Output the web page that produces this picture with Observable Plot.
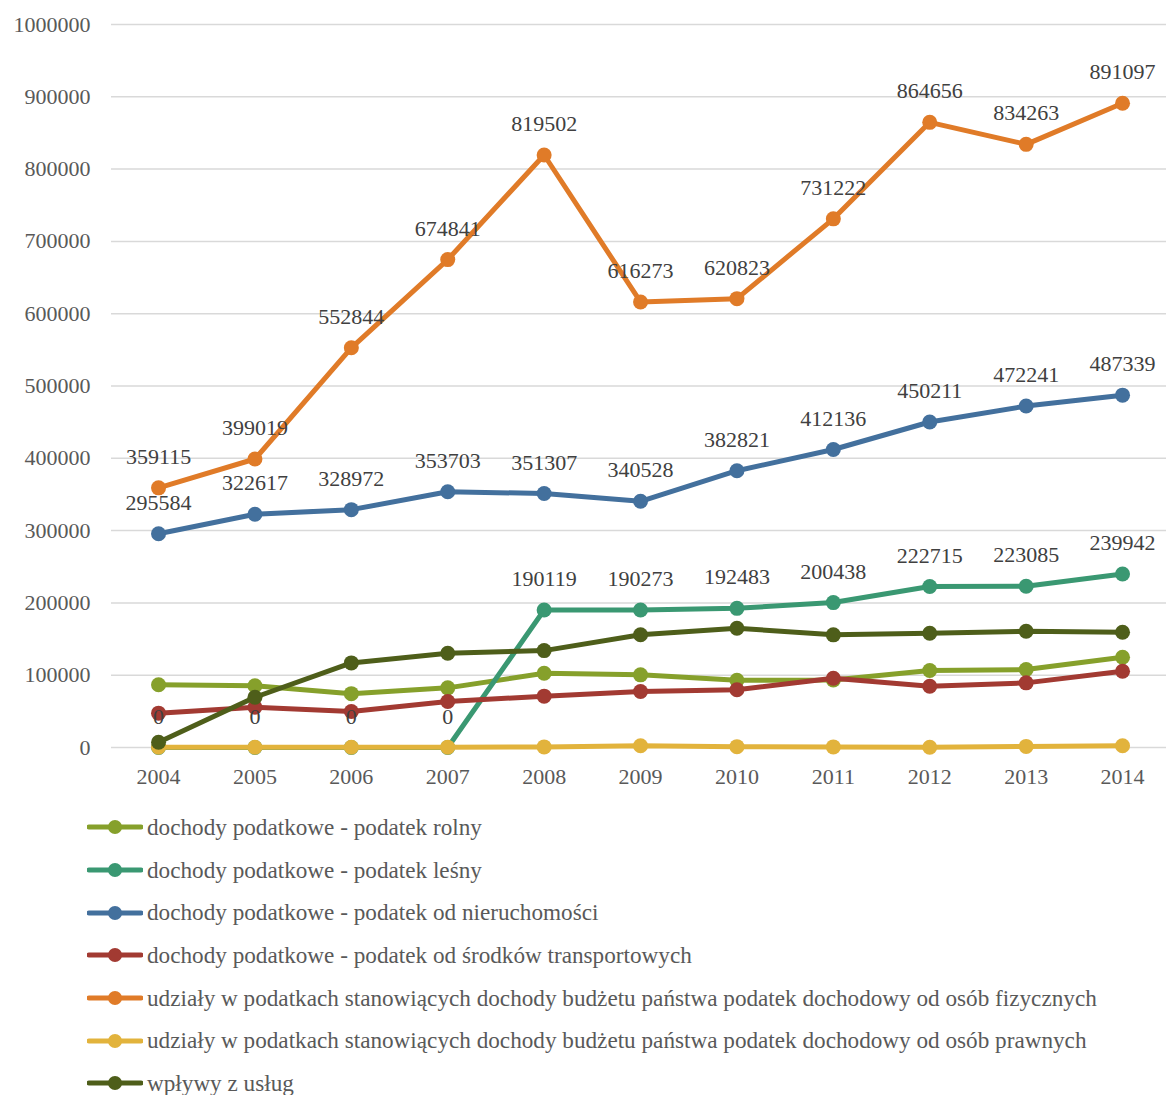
<!DOCTYPE html>
<html>
<head>
<meta charset="utf-8">
<script src="https://cdn.jsdelivr.net/npm/d3@7"></script>
<script src="https://cdn.jsdelivr.net/npm/@observablehq/plot@0.6"></script>
<style>
  body { margin: 0; background: #fff; font-family: "Liberation Serif", "DejaVu Serif", serif; }
  #chart { width: 1166px; }
  #legend { margin-top: 6px; }
  .item { height: 42.7px; display: flex; align-items: center; color: #595959; font-size: 23.2px; }
  .item svg { margin-left: 87px; margin-right: 4px; }
</style>
</head>
<body>
<div id="chart"></div>
<div id="legend"></div>
<script>
const years = [2004, 2005, 2006, 2007, 2008, 2009, 2010, 2011, 2012, 2013, 2014];
const yTicks = [0, 100000, 200000, 300000, 400000, 500000, 600000, 700000, 800000, 900000, 1000000];

const seriesNames = [
  "dochody podatkowe - podatek rolny",
  "dochody podatkowe - podatek leśny",
  "dochody podatkowe - podatek od nieruchomości",
  "dochody podatkowe - podatek od środków transportowych",
  "udziały w podatkach stanowiących dochody budżetu państwa podatek dochodowy od osób fizycznych",
  "udziały w podatkach stanowiących dochody budżetu państwa podatek dochodowy od osób prawnych",
  "wpływy z usług"
];
const seriesColors = ["#86a02b", "#3a9872", "#43709d", "#a23a32", "#e07b28", "#e2b33c", "#4e5e1a"];

const rolny = [86700, 85500, 74500, 82500, 102700, 100500, 93000, 93500, 106500, 107800, 124900];
const lesny = [0, 0, 0, 0, 190119, 190273, 192483, 200438, 222715, 223085, 239942];
const nieruchomosci = [295584, 322617, 328972, 353703, 351307, 340528, 382821, 412136, 450211, 472241, 487339];
const transport = [47500, 55700, 49800, 63600, 71000, 77400, 79800, 95800, 84800, 89400, 105500];
const fizyczne = [359115, 399019, 552844, 674841, 819502, 616273, 620823, 731222, 864656, 834263, 891097];
const prawne = [500, 300, 400, 500, 800, 2500, 1200, 800, 300, 1500, 2500];
const uslugi = [7300, 69500, 117000, 130400, 134000, 156000, 165000, 155800, 158000, 160800, 159400];

const allSeries = [rolny, lesny, nieruchomosci, transport, fizyczne, prawne, uslugi];
const labelled = [1, 2, 4]; // series with data labels

const data = allSeries.map((vals, i) => years.map((yr, j) => ({year: yr, value: vals[j], s: i})));

const marks = [
  Plot.gridY(yTicks, {stroke: "#d9d9d9", strokeOpacity: 1, strokeWidth: 1.5})
];
data.forEach((d, i) => {
  marks.push(Plot.line(d, {x: "year", y: "value", stroke: seriesColors[i], strokeWidth: 5, strokeLinejoin: "round", strokeLinecap: "round"}));
  marks.push(Plot.dot(d, {x: "year", y: "value", fill: seriesColors[i], r: 7.5}));
});
labelled.forEach(i => {
  marks.push(Plot.text(data[i], {x: "year", y: "value", text: d => String(d.value), dy: -31, fill: "#404040", fontSize: 22}));
});
marks.push(Plot.axisY(yTicks, {tickSize: 0, tickPadding: 21, tickFormat: d => String(d), fontSize: 22, label: null}));
marks.push(Plot.axisX(years, {tickSize: 0, tickPadding: 21, tickFormat: d => String(d), fontSize: 22, label: null}));

const chart = Plot.plot({
  width: 1166,
  height: 800,
  marginTop: 24,
  marginBottom: 53,
  marginLeft: 111,
  marginRight: 0,
  style: {fontFamily: "'Liberation Serif', serif", fontSize: "22px", color: "#595959", background: "#fff", overflow: "visible"},
  x: {domain: [2003.512, 2014.456], label: null},
  y: {domain: [0, 1000000], label: null},
  marks
});
document.getElementById("chart").appendChild(chart);

const legend = document.getElementById("legend");
seriesNames.forEach((name, i) => {
  const div = document.createElement("div");
  div.className = "item";
  div.innerHTML = `<svg width="56" height="16"><line x1="2" y1="8" x2="54" y2="8" stroke="${seriesColors[i]}" stroke-width="5" stroke-linecap="round"/><circle cx="28" cy="8" r="7" fill="${seriesColors[i]}"/></svg><span>${name}</span>`;
  legend.appendChild(div);
});
</script>
</body>
</html>
